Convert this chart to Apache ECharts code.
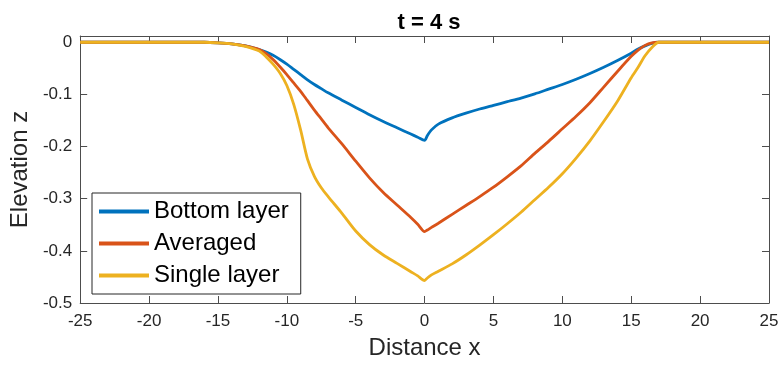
<!DOCTYPE html>
<html>
<head>
    <meta charset="utf-8">
    <title>t = 4 s</title>
    <script src="https://cdn.jsdelivr.net/npm/echarts@6.0.0/dist/echarts.min.js"></script>
    <style>
        html, body { margin: 0; padding: 0; background: #fff; }
        #chart { width: 782px; height: 367px; }
    </style>
</head>
<body>
    <div id="chart"></div>
    <script>
        // x positions shared by all three curves
        var distX = [-25, -20, -16, -15, -14, -13, -12, -11.5, -11, -10.5, -10, -9.5, -9, -8.5, -8, -7.5, -7,
            -6, -5, -4, -3, -2, -1, -0.5, 0, 0.2, 0.5, 1, 2, 3, 4, 5, 6, 7, 8, 9, 10,
            11, 12, 13, 14, 15, 15.5, 16, 16.5, 17, 18, 20, 25];

        var bottomLayer = [0, 0, 0, -0.001, -0.003, -0.007, -0.014, -0.019, -0.025, -0.033, -0.042, -0.052, -0.062, -0.072, -0.081, -0.089, -0.097,
            -0.111, -0.125, -0.139, -0.152, -0.164, -0.176, -0.182, -0.188, -0.179, -0.168, -0.157, -0.145, -0.136, -0.128, -0.121, -0.114, -0.107, -0.099, -0.090, -0.081,
            -0.071, -0.060, -0.048, -0.035, -0.021, -0.013, -0.007, -0.002, 0, 0, 0, 0];

        var averaged = [0, 0, 0, -0.001, -0.003, -0.007, -0.014, -0.022, -0.033, -0.047, -0.062, -0.078, -0.094, -0.112, -0.130, -0.147, -0.164,
            -0.195, -0.228, -0.260, -0.288, -0.312, -0.336, -0.349, -0.363, -0.360, -0.355, -0.347, -0.330, -0.313, -0.296, -0.278, -0.258, -0.237, -0.213, -0.190, -0.166,
            -0.142, -0.116, -0.086, -0.056, -0.027, -0.015, -0.006, -0.001, 0, 0, 0, 0];

        var singleLayer = [0, 0, 0, -0.001, -0.003, -0.008, -0.017, -0.028, -0.042, -0.059, -0.083, -0.119, -0.168, -0.224, -0.257, -0.279, -0.296,
            -0.328, -0.362, -0.388, -0.408, -0.424, -0.440, -0.448, -0.457, -0.452, -0.446, -0.439, -0.425, -0.408, -0.389, -0.369, -0.348, -0.326, -0.302, -0.278, -0.252,
            -0.222, -0.189, -0.152, -0.113, -0.068, -0.048, -0.026, -0.010, 0, 0, 0, 0];

        var seriesNames = ['Bottom layer', 'Averaged', 'Single layer'];
        var seriesColors = ['#0072BD', '#D95319', '#EDB120'];

        function pairs(ys) {
            return distX.map(function (x, i) { return [x, ys[i]]; });
        }

        var font = 'Liberation Sans, Arial, Helvetica, sans-serif';
        var axisGray = '#4d4d4d';
        var textDark = '#262626';

        var chart = echarts.init(document.getElementById('chart'));

        var xBase = { type: 'value', min: -25, max: 25, interval: 5, splitLine: { show: false } };
        var yBase = { type: 'value', min: -0.5, max: 0.012, interval: 0.1, splitLine: { show: false } };

        var option = {
            animation: false,
            backgroundColor: '#fff',
            title: {
                text: 't = 4 s',
                left: 424,
                top: 7,
                textAlign: 'center',
                textStyle: { fontFamily: font, fontSize: 22, fontWeight: 'bold', color: '#000' }
            },
            grid: { left: 79, right: 13, top: 36, bottom: 64 },
            legend: {
                data: seriesNames,
                orient: 'vertical',
                left: 92,
                top: 193,
                padding: [5, 12, 5, 7],
                itemGap: 5,
                itemWidth: 50,
                itemHeight: 4,
                icon: 'rect',
                backgroundColor: '#fff',
                borderColor: textDark,
                borderWidth: 1,
                borderRadius: 0,
                textStyle: { fontFamily: font, fontSize: 24, color: '#000', lineHeight: 27 }
            },
            xAxis: [
                Object.assign({}, xBase, {
                    position: 'bottom',
                    name: 'Distance x',
                    nameLocation: 'middle',
                    nameGap: 33,
                    nameTextStyle: { fontFamily: font, fontSize: 24, color: textDark },
                    axisLine: { onZero: false, lineStyle: { color: axisGray, width: 1 } },
                    axisTick: { inside: true, length: 7, lineStyle: { color: axisGray } },
                    axisLabel: { margin: 10, fontFamily: font, fontSize: 17, color: textDark }
                }),
                Object.assign({}, xBase, {
                    position: 'top',
                    axisLine: { onZero: false, lineStyle: { color: axisGray, width: 1 } },
                    axisTick: { inside: true, length: 7, lineStyle: { color: axisGray } },
                    axisLabel: { show: false }
                })
            ],
            yAxis: [
                Object.assign({}, yBase, {
                    position: 'left',
                    name: 'Elevation z',
                    nameLocation: 'middle',
                    nameGap: 40,
                    nameTextStyle: { fontFamily: font, fontSize: 24, color: textDark },
                    axisLine: { show: true, onZero: false, lineStyle: { color: axisGray, width: 1 } },
                    axisTick: { show: true, inside: true, length: 7, lineStyle: { color: axisGray } },
                    axisLabel: { margin: 8, showMaxLabel: false, fontFamily: font, fontSize: 17, color: textDark }
                }),
                Object.assign({}, yBase, {
                    position: 'right',
                    axisLine: { show: true, onZero: false, lineStyle: { color: axisGray, width: 1 } },
                    axisTick: { show: true, inside: true, length: 7, lineStyle: { color: axisGray } },
                    axisLabel: { show: false }
                })
            ],
            series: [bottomLayer, averaged, singleLayer].map(function (ys, i) {
                return {
                    name: seriesNames[i],
                    type: 'line',
                    data: pairs(ys),
                    showSymbol: false,
                    symbol: 'none',
                    smooth: 0.25,
                    color: seriesColors[i],
                    lineStyle: { width: 2.8, color: seriesColors[i] },
                    z: 2 + i
                };
            })
        };
        chart.setOption(option);
    </script>
</body>
</html>
